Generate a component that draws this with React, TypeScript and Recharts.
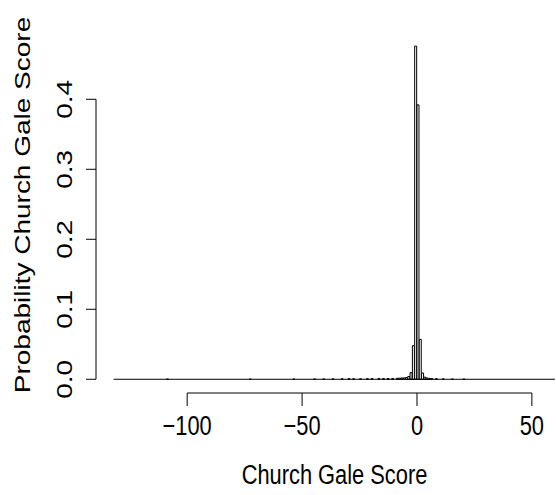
import { ComposedChart, Bar, XAxis, YAxis, ReferenceLine } from "recharts";

// histogram bins (left edge, width 1) that have a visible height
const binStart = [
  -109, -73, -54, -45, -41, -37, -33, -30, -28, -25, -22, -20, -17, -15, -13,
  -11, -9, -8, -7, -6, -5, -4, -3, -2, -1, 0, 1, 2, 3, 4, 5, 6, 8, 11, 15, 20,
];
const binProb = [
  0.0002, 0.0002, 0.0002, 0.0004, 0.0004, 0.0005, 0.0006, 0.0008, 0.0007,
  0.0006, 0.0008, 0.0009, 0.001, 0.0009, 0.0011, 0.0012, 0.0014, 0.0016,
  0.0018, 0.002, 0.0025, 0.004, 0.0095, 0.048, 0.476, 0.392, 0.057, 0.009,
  0.003, 0.0018, 0.0012, 0.001, 0.0008, 0.0005, 0.0003, 0.0002,
];
const breaksMin = -132;
const breaksMax = 60;
const xTicks = [-100, -50, 0, 50];
const yTicks = [0, 0.1, 0.2, 0.3, 0.4];

const xDomain = [-139.68, 67.68];
const yDomain = [-0.0196, 0.4947];

const data = binStart.map((s, i) => ({ mid: s + 0.5, p: binProb[i] }));

const FONT = "'Liberation Sans', Arial, Helvetica, sans-serif";
const SX = 0.78; // picture is squashed horizontally

function fmt(v: number) {
  return String(v).replace("-", "\u2212");
}

function XTick(props: any) {
  const { x, payload } = props;
  return (
    <text
      transform={`translate(${x},435) scale(${SX},1)`}
      textAnchor="middle"
      fontSize={28}
      fontFamily={FONT}
      fill="#000"
    >
      {fmt(payload.value)}
    </text>
  );
}

function YTick(props: any) {
  const { y, payload } = props;
  return (
    <text
      transform={`translate(72,${y}) scale(${SX},1) rotate(-90)`}
      textAnchor="middle"
      fontSize={28}
      fontFamily={FONT}
      fill="#000"
    >
      {payload.value.toFixed(1)}
    </text>
  );
}

function XTitle() {
  return (
    <text
      transform={`translate(334.5,484) scale(${SX},1)`}
      textAnchor="middle"
      fontSize={28}
      fontFamily={FONT}
      fill="#000"
    >
      Church Gale Score
    </text>
  );
}

function YTitle() {
  return (
    <text
      transform={`translate(30,205) scale(${SX},1) rotate(-90)`}
      textAnchor="middle"
      fontSize={28}
      fontFamily={FONT}
      fill="#000"
    >
      Probability Church Gale Score
    </text>
  );
}

export default function App() {
  return (
    <div
      style={{
        position: "fixed",
        left: 0,
        top: 0,
        width: 556,
        height: 495,
        overflow: "hidden",
        background: "#fff",
      }}
    >
      <ComposedChart
        width={620}
        height={495}
        data={data}
        margin={{ top: 33, right: 47.5, bottom: 0, left: 0 }}
        barCategoryGap={0}
        barGap={0}
      >
        <XAxis
          type="number"
          dataKey="mid"
          domain={xDomain}
          ticks={xTicks}
          allowDataOverflow
          axisLine={false}
          tickLine={{ stroke: "#000", strokeWidth: 1 }}
          tickSize={13}
          tick={<XTick />}
          height={102}
          interval={0}
          label={() => <XTitle />}
        />
        <YAxis
          type="number"
          domain={yDomain}
          ticks={yTicks}
          allowDataOverflow
          axisLine={false}
          tickLine={{ stroke: "#000", strokeWidth: 1 }}
          tickSize={10}
          tick={<YTick />}
          width={96}
          interval={0}
          label={() => <YTitle />}
        />
        <ReferenceLine
          segment={[
            { x: xTicks[0], y: yDomain[0] },
            { x: xTicks[xTicks.length - 1], y: yDomain[0] },
          ]}
          stroke="#000"
          strokeWidth={1}
          ifOverflow="visible"
        />
        <ReferenceLine
          segment={[
            { x: xDomain[0], y: yTicks[0] },
            { x: xDomain[0], y: yTicks[yTicks.length - 1] },
          ]}
          stroke="#000"
          strokeWidth={1}
          ifOverflow="visible"
        />
        <ReferenceLine
          segment={[
            { x: breaksMin, y: 0 },
            { x: breaksMax, y: 0 },
          ]}
          stroke="#000"
          strokeWidth={1}
          ifOverflow="visible"
        />
        <Bar
          dataKey="p"
          fill="#fff"
          stroke="#000"
          strokeWidth={1}
          isAnimationActive={false}
        />
      </ComposedChart>
    </div>
  );
}
